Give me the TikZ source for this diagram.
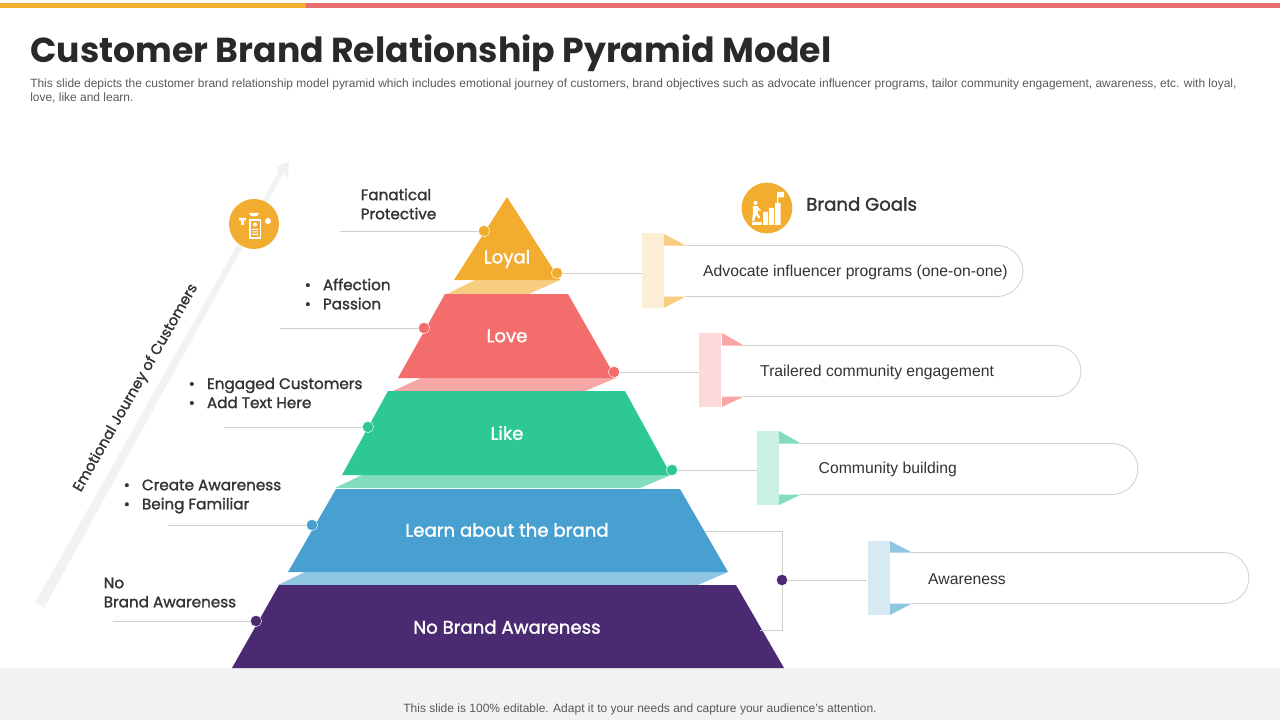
\documentclass[tikz,border=0pt]{standalone}
\usepackage{fontspec}
\setmainfont{Liberation Sans}
\newfontfamily\headfont{Poppins}
\newfontfamily\labelfont[FakeBold=1.5]{Poppins}
\usetikzlibrary{shapes.geometric}
\definecolor{loyalcol}{HTML}{F2AC2F}
\definecolor{lovecol}{HTML}{F26D6B}
\definecolor{likecol}{HTML}{2EC796}
\definecolor{learncol}{HTML}{47A0CF}
\definecolor{nonecol}{HTML}{4A2A70}
\definecolor{inkcol}{HTML}{333333}
\definecolor{greycol}{HTML}{595959}
\definecolor{linecol}{HTML}{CFCFCF}
\definecolor{footcol}{HTML}{F2F2F2}
\tikzset{
  layername/.style={text=white, font=\labelfont\fontsize{13.6}{16}\selectfont},
  sidelabel/.style={anchor=west, align=left, text=inkcol, font=\labelfont\fontsize{11.4}{14.3}\selectfont},
  goaltext/.style={anchor=west, text=inkcol, font=\fontsize{11.8}{14}\selectfont},
  dot/.style={circle, inner sep=0pt, minimum size=8.5pt, draw=white, line width=0.3pt},
  tagbox/.style={inner sep=0pt, minimum width=16.5pt, minimum height=56pt},
  leader/.style={draw=linecol, line width=0.6pt},
  pill/.style={draw=linecol, line width=0.6pt, fill=white, rounded corners=19.5pt}
}
\begin{document}
\begin{tikzpicture}[x=0.75pt, y=-0.75pt]
    \useasboundingbox (0,0) rectangle (1280,720);
    % Top bars and footer
    \fill[loyalcol] (0,3) rectangle (306,8);
    \fill[lovecol!90!gray] (306,3) rectangle (1280,8);
    \fill[footcol] (0,668) rectangle (1280,720);
    % Heading
    \node[anchor=west, text=inkcol!80!black, inner sep=0pt, font=\headfont\bfseries\fontsize{26}{30}\selectfont] (title) at (30,53) {Customer Brand Relationship Pyramid Model};
    \node[anchor=north west, align=left, text=greycol, inner sep=0pt, font=\fontsize{8.98}{10.5}\selectfont] (subtitle) at (30,79) {This slide depicts the customer brand relationship model pyramid which includes emotional journey of customers, brand objectives such as advocate influencer programs, tailor community engagement, awareness, etc. with loyal,\\love, like and learn.};
    \node[text=greycol, inner sep=0pt, font=\fontsize{9}{11}\selectfont] (footer) at (640,709) {This slide is 100\% editable. Adapt it to your needs and capture your audience's attention.};
    % Journey arrow
    \fill[footcol] (35,603) -- (44,608) -- (283,174) -- (288,177) -- (289,162) -- (276,166) -- (279,171) -- cycle;
    \node[rotate=60.4, text=inkcol, font=\labelfont\fontsize{10.9}{14}\selectfont] (journey) at (136,388) {Emotional Journey of Customers};
    % Journey icon
    \node[circle, fill=loyalcol, minimum size=37.5pt, inner sep=0pt] (journeyicon) at (254,224) {};
    \fill[white] (249,219) rectangle (261,239);
    \fill[loyalcol] (250.5,221) rectangle (259.5,237);
    \fill[white] (255,224.5) circle (2);
    \fill[white] (252,229) rectangle (258,230) (252,231.5) rectangle (258,232.5) (252,234) rectangle (258,235);
    \fill[white] (249,213) arc (180:360:5 and -3.5) -- cycle;
    \fill[white] (239,218) rectangle (246,220.5) (241,220.5) rectangle (244,225);
    \fill[white] (268,221) circle (3);
    % Pyramid shades
    \fill[loyalcol!60!white] (447,294) -- (475,280) -- (560,280) -- (529,294) -- cycle;
    \fill[lovecol!60!white] (393,391) -- (421,378) -- (616,378) -- (585,391) -- cycle;
    \fill[likecol!60!white] (335,488) -- (362,475) -- (671,475) -- (640,488) -- cycle;
    \fill[learncol!60!white] (278,585) -- (305,572) -- (728,572) -- (698,585) -- cycle;
    % Pyramid layers
    \fill[loyalcol] (507,197) -- (560,280) -- (454,280) -- cycle;
    \fill[lovecol] (445,294) -- (568,294) -- (616,378) -- (398,378) -- cycle;
    \fill[likecol] (388,391) -- (625,391) -- (671,475) -- (342,475) -- cycle;
    \fill[learncol] (336,489) -- (680,489) -- (728,572) -- (288,572) -- cycle;
    \fill[nonecol] (279,585) -- (736,585) -- (784,668) -- (232,668) -- cycle;
    \node[layername] (loyal) at (507,259) {Loyal};
    \node[layername] (love) at (507,336) {Love};
    \node[layername] (like) at (507,433) {Like};
    \node[layername] (learn) at (507,530) {Learn about the brand};
    \node[layername] (none) at (507,627) {No Brand Awareness};
    % Left labels
    \node[sidelabel] (lab1) at (356,204) {Fanatical\\Protective};
    \node[sidelabel] (lab2) at (300,294) {\textbullet\hspace{9pt}Affection\\\textbullet\hspace{9pt}Passion};
    \node[sidelabel] (lab3) at (184,393) {\textbullet\hspace{9pt}Engaged Customers\\\textbullet\hspace{9pt}Add Text Here};
    \node[sidelabel] (lab4) at (119,496.5) {\textbullet\hspace{9pt}Create Awareness\\\textbullet\hspace{9pt}Being Familiar};
    \node[sidelabel] (lab5) at (99,592.5) {No\\Brand Awareness};
    % Dots
    \node[dot, fill=loyalcol] (dotleft1) at (484,231) {};
    \node[dot, fill=lovecol] (dotleft2) at (424,328) {};
    \node[dot, fill=likecol] (dotleft3) at (368,427) {};
    \node[dot, fill=learncol] (dotleft4) at (312,525) {};
    \node[dot, fill=nonecol] (dotleft5) at (256,621) {};
    \node[dot, fill=loyalcol] (dotright1) at (557,273) {};
    \node[dot, fill=lovecol] (dotright2) at (614,372) {};
    \node[dot, fill=likecol] (dotright3) at (672,470) {};
    \node[dot, fill=nonecol] (dotright4) at (782,580) {};
    % Left leaders
    \coordinate (endleft1) at (340,231);
    \coordinate (endleft2) at (280,328);
    \coordinate (endleft3) at (224,427);
    \coordinate (endleft4) at (168,525);
    \coordinate (endleft5) at (113,621);
    \draw[leader] (dotleft1) -- (endleft1);
    \draw[leader] (dotleft2) -- (endleft2);
    \draw[leader] (dotleft3) -- (endleft3);
    \draw[leader] (dotleft4) -- (endleft4);
    \draw[leader] (dotleft5) -- (endleft5);
    % Goals heading
    \node[circle, fill=loyalcol, minimum size=38pt, inner sep=0pt] (goalicon) at (767,208) {};
    \fill[white] (752,222) rectangle (761.5,225) (763,212) rectangle (768,225) (769,208) rectangle (774,225) (775,203) rectangle (780.5,225);
    \fill[white] (777,192) -- (777,203) -- (778,203) -- (778,197.5) -- (784,197.5) -- (784,192) -- cycle;
    \fill[white] (755.5,203) circle (2);
    \fill[white] (753,206) rectangle (757.5,213);
    \fill[white] (753,213) -- (752,221) -- (754,221) -- (756,215) -- (759,219) -- (760,217) -- (757.5,213) -- cycle;
    \fill[white] (757.5,207) -- (761,210) -- (760,211) -- (757.5,209.5) -- cycle;
    \node[anchor=west, text=inkcol, inner sep=0pt, font=\labelfont\fontsize{13.6}{16}\selectfont] (goals) at (806,204) {Brand Goals};
    % Goal tags
    \draw[pill] (664,245.5) -- (1023,245.5) -- (1023,296.5) -- (664,296.5);
    \fill[white] (664,245) rectangle (686,298);
    \fill[loyalcol!60!white] (664,234) -- (686,245.5) -- (664,245.5) -- cycle (664,296.5) -- (686,296.5) -- (664,308) -- cycle;
    \node[tagbox, fill=loyalcol!20!white] (tag1) at (653,270.5) {};
    \node[goaltext] (goal1) at (698.5,272) {Advocate influencer programs (one-on-one)};
    \draw[pill] (722,345.5) -- (1081,345.5) -- (1081,396.5) -- (722,396.5);
    \fill[white] (722,345) rectangle (744,398);
    \fill[lovecol!60!white] (722,333) -- (744,345.5) -- (722,345.5) -- cycle (722,396.5) -- (744,396.5) -- (722,407) -- cycle;
    \node[tagbox, fill=lovecol!25!white] (tag2) at (710,370) {};
    \node[goaltext] (goal2) at (755.5,372.5) {Trailered community engagement};
    \draw[pill] (779,443.5) -- (1138,443.5) -- (1138,494.5) -- (779,494.5);
    \fill[white] (779,443) rectangle (801,496);
    \fill[likecol!60!white] (779,431) -- (801,443.5) -- (779,443.5) -- cycle (779,494.5) -- (801,494.5) -- (779,505) -- cycle;
    \node[tagbox, fill=likecol!25!white] (tag3) at (768,468) {};
    \node[goaltext] (goal3) at (814,469.5) {Community building};
    \draw[pill] (890,552.5) -- (1249,552.5) -- (1249,603.5) -- (890,603.5);
    \fill[white] (890,552) rectangle (912,605);
    \fill[learncol!60!white] (890,541) -- (912,552.5) -- (890,552.5) -- cycle (890,603.5) -- (912,603.5) -- (890,615) -- cycle;
    \node[tagbox, fill=learncol!22!white] (tag4) at (878.5,578) {};
    \node[goaltext] (goal4) at (923.5,579) {Awareness};
    % Right leaders
    \coordinate (bracktop) at (705,531);
    \coordinate (brackbot) at (760,630);
    \draw[leader] (dotright1) -- (tag1.west |- dotright1);
    \draw[leader] (dotright2) -- (tag2.west |- dotright2);
    \draw[leader] (dotright3) -- (tag3.west |- dotright3);
    \draw[leader] (bracktop) -| (dotright4) |- (brackbot);
    \draw[leader] (dotright4) -- (tag4.west |- dotright4);
\end{tikzpicture}
\end{document}
